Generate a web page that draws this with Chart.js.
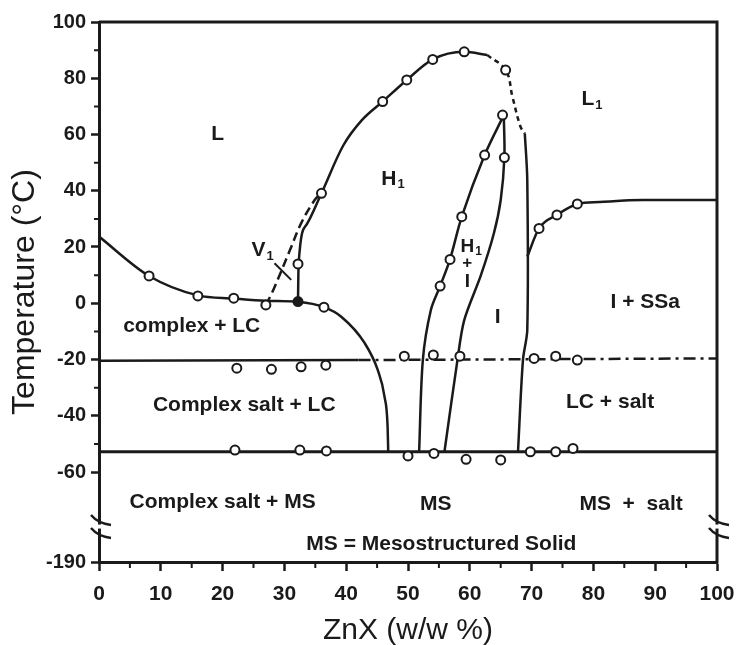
<!DOCTYPE html>
<html lang="en">
<head>
<meta charset="UTF-8" />
<title>ZnX phase diagram</title>
<script src="https://cdn.jsdelivr.net/npm/chart.js"></script>
<style>
  html, body { margin: 0; padding: 0; background: #fff; }
  canvas { display: block; }
</style>
</head>
<body>
<canvas id="phaseChart" width="741" height="645"></canvas>
<script>
// axis ticks (the bottom of the broken y axis stands for -190 °C)
const xTicks = [0, 10, 20, 30, 40, 50, 60, 70, 80, 90, 100];
const xMinor = [5, 15, 25, 35, 45, 55, 65, 75, 85, 95];
const yTicks = [-92, -60, -40, -20, 0, 20, 40, 60, 80, 100];
const yTickLabels = ['-190', '-60', '-40', '-20', '0', '20', '40', '60', '80', '100'];
const yMinor = [-50, -30, -10, 10, 30, 50, 70, 90];
const yBreak = -79.4;

// phase boundaries (ZnX w/w %, temperature)
const liquidusX = [0, 8.1, 16, 21.8, 27, 32.2, 36.4, 39.2, 43, 45.1, 46.2, 46.7, 46.8];
const liquidusT = [23.7, 9.7, 2.8, 1.7, 0.9, 0.5, -1.4, -4.8, -14.2, -23.7, -33.2, -43.9, -52.8];
const lowerSolidX = [0, 42];
const lowerSolidT = [-20.4, -20.2];
const lowerDashX = [42, 100];
const lowerDashT = [-20.2, -19.6];
const eutecticX = [0, 100];
const eutecticT = [-52.8, -52.8];
const domeX = [32.2, 32.3, 33.6, 36, 39.5, 42.5, 45.9, 49.8, 54, 59.1, 62.8];
const domeT = [0.6, 14, 28, 39.1, 56, 65, 71.7, 79.4, 86.7, 89.4, 88.3];
const domeDashX = [62.8, 65.8, 66.9, 68.2, 68.9];
const domeDashT = [88.3, 82.9, 73.4, 62.8, 60.4];
const iEdgeX = [68.9, 69.3, 69.3, 68.6, 67.8];
const iEdgeT = [60.4, 43.8, -9.5, -20.2, -52.8];
const h1LeftX = [65.5, 62.4, 58.7, 56.8, 55.2, 53.7, 52.4, 51.8];
const h1LeftT = [66.9, 52.7, 30.8, 15.6, 6.1, -2.4, -20.2, -52.8];
const h1RightX = [65.5, 65.6, 65.0, 63.9, 61.8, 59.1, 58.0, 55.9];
const h1RightT = [66.9, 52.1, 36.7, 24.9, 10, -6, -20.2, -52.8];
const ssaX = [69.3, 71.2, 74.1, 77.4, 81, 88, 100];
const ssaT = [16.6, 26.6, 31.4, 35.3, 36.0, 36.7, 36.7];
const v1X = [27, 28.2, 30.9, 32.7, 34.9, 36];
const v1T = [-0.6, 4.7, 18.9, 28.4, 36.7, 39.1];
const v1LeaderX = [28.4, 31.1];
const v1LeaderT = [14.2, 8.3];

// measured points
const circleX = [8.1, 16, 21.8, 27, 36.4,
  32.2, 36, 45.9, 49.8, 54, 59.1, 65.8,
  65.3, 62.4, 65.6, 58.7, 56.8, 55.2,
  71.2, 74.1, 77.4,
  22.3, 27.9, 32.7, 36.7, 49.4, 54.1, 58.4, 70.4, 73.9, 77.4,
  22, 32.5, 36.8, 50, 54.2, 59.4, 65, 69.8, 73.9, 76.7];
const circleT = [9.7, 2.6, 1.8, -0.6, -1.4,
  14.0, 39.1, 71.7, 79.4, 86.7, 89.4, 82.9,
  66.9, 52.7, 51.8, 30.8, 15.6, 6.1,
  26.6, 31.4, 35.3,
  -23.1, -23.5, -22.6, -22.0, -18.8, -18.4, -18.8, -19.6, -18.8, -20.2,
  -52.2, -52.2, -52.5, -54.3, -53.4, -55.5, -55.7, -52.8, -52.8, -51.6];
const filledX = [32.2];
const filledT = [0.6];

const ink = '#1a1a1a';
const family = '"Liberation Sans", Arial, sans-serif';

const pts = (xs, ys) => xs.map((x, i) => ({ x: x, y: ys[i] }));
const curve = (xs, ys, extra) => Object.assign({
  data: pts(xs, ys),
  borderColor: ink,
  borderWidth: 2.5,
  pointRadius: 0,
  fill: false,
  tension: 0.4,
  order: 2
}, extra || {});

const datasets = [
  { data: pts(filledX, filledT), showLine: false, pointRadius: 4.5, pointBorderWidth: 2,
    pointBorderColor: ink, pointBackgroundColor: ink, order: 0 },
  { data: pts(circleX, circleT), showLine: false, pointRadius: 4.5, pointBorderWidth: 2,
    pointBorderColor: ink, pointBackgroundColor: '#fff', order: 1 },
  curve(liquidusX, liquidusT, { cubicInterpolationMode: 'monotone' }),
  curve(lowerSolidX, lowerSolidT, { tension: 0 }),
  curve(lowerDashX, lowerDashT, { tension: 0, borderDash: [12, 5, 3, 5] }),
  curve(eutecticX, eutecticT, { tension: 0, borderWidth: 3 }),
  curve(domeX, domeT, { cubicInterpolationMode: 'monotone' }),
  curve(domeDashX, domeDashT, { borderDash: [5, 4] }),
  curve(iEdgeX, iEdgeT, { tension: 0.3 }),
  curve(h1LeftX, h1LeftT, { tension: 0.3 }),
  curve(h1RightX, h1RightT, { tension: 0.3 }),
  curve(ssaX, ssaT, { cubicInterpolationMode: 'monotone' }),
  curve(v1X, v1T, { borderDash: [9, 5] }),
  curve(v1LeaderX, v1LeaderT, { tension: 0, borderWidth: 2 })
];

// region names, placed in data coordinates
const regionLabels = [
  { t: 'L', x: 19.2, y: 60.2 },
  { t: 'H', s: '1', x: 46.9, y: 44.2 },
  { t: 'L', s: '1', x: 79.1, y: 72.6 },
  { t: 'V', s: '1', x: 25.8, y: 18.9 },
  { t: 'H', s: '1', x: 59.6, y: 20.1, size: 19 },
  { t: '+', x: 59.6, y: 14.2, size: 17 },
  { t: 'I', x: 59.6, y: 7.7, size: 19 },
  { t: 'I', x: 64.5, y: -5.1 },
  { t: 'I + SSa', x: 88.4, y: 0.3 },
  { t: 'complex + LC', x: 15, y: -8.1 },
  { t: 'Complex salt + LC', x: 23.5, y: -36.2 },
  { t: 'LC + salt', x: 82.7, y: -35.3 },
  { t: 'Complex salt + MS', x: 20, y: -70.8 },
  { t: 'MS', x: 54.5, y: -71.5 },
  { t: 'MS  +  salt', x: 86.1, y: -71.4 },
  { t: 'MS = Mesostructured Solid', x: 55.4, y: -85.6 }
];

const framePlugin = {
  id: 'frame',
  afterDraw(chart) {
    const { ctx, chartArea: a, scales: { x, y } } = chart;
    ctx.save();
    ctx.strokeStyle = ink;
    ctx.lineWidth = 3;
    ctx.beginPath();
    ctx.moveTo(a.left, a.top);
    ctx.lineTo(a.right, a.top);
    ctx.lineTo(a.right, a.bottom + 1.5);
    ctx.stroke();

    // minor ticks
    ctx.lineWidth = 2;
    ctx.beginPath();
    xMinor.forEach(v => {
      const px = x.getPixelForValue(v);
      ctx.moveTo(px, a.bottom);
      ctx.lineTo(px, a.bottom + 6);
    });
    yMinor.forEach(v => {
      const py = y.getPixelForValue(v);
      ctx.moveTo(a.left, py);
      ctx.lineTo(a.left - 5, py);
    });
    ctx.stroke();

    // axis break marks
    const by = y.getPixelForValue(yBreak);
    [a.left, a.right].forEach(bx => {
      ctx.fillStyle = '#fff';
      ctx.fillRect(bx - 3, by - 2, 6, 4);
      ctx.beginPath();
      [-6.5, 6.5].forEach(dy => {
        ctx.moveTo(bx - 8, by + dy - 5);
        ctx.bezierCurveTo(bx - 3, by + dy + 1, bx + 4, by + dy + 4, bx + 12, by + dy + 5);
      });
      ctx.lineWidth = 2.5;
      ctx.stroke();
    });

    // region labels
    ctx.fillStyle = ink;
    ctx.textAlign = 'center';
    ctx.textBaseline = 'middle';
    regionLabels.forEach(l => {
      const size = l.size || 21;
      const px = x.getPixelForValue(l.x);
      const py = y.getPixelForValue(l.y);
      ctx.font = 'bold ' + size + 'px ' + family;
      ctx.fillText(l.t, px, py);
      if (l.s) {
        const w = ctx.measureText(l.t).width;
        ctx.font = 'bold ' + Math.round(size * 0.62) + 'px ' + family;
        ctx.textAlign = 'left';
        ctx.fillText(l.s, px + w / 2 + 1, py + size * 0.28);
        ctx.textAlign = 'center';
      }
    });
    ctx.restore();
  }
};

new Chart(document.getElementById('phaseChart'), {
  type: 'line',
  data: { datasets: datasets },
  options: {
    responsive: false,
    animation: false,
    events: [],
    layout: { padding: { top: 22, right: 24, left: 0, bottom: 0 } },
    plugins: { legend: { display: false }, tooltip: { enabled: false } },
    scales: {
      x: {
        type: 'linear',
        min: 0,
        max: 100,
        afterBuildTicks: s => { s.ticks = xTicks.map(v => ({ value: v })); },
        afterFit: s => { s.height = 83; s.paddingLeft = 0; s.paddingRight = 20; },
        ticks: { color: ink, font: { family: family, size: 21, weight: 'bold' }, padding: 11, maxRotation: 0, autoSkip: false },
        grid: { drawOnChartArea: false, tickLength: 9, tickWidth: 2.5, tickColor: ink },
        border: { width: 3, color: ink },
        title: { display: true, text: 'ZnX (w/w %)', color: ink, font: { family: family, size: 30 }, padding: -4 }
      },
      y: {
        type: 'linear',
        min: yTicks[0],
        max: 100,
        afterBuildTicks: s => { s.ticks = yTicks.map(v => ({ value: v })); },
        afterFit: s => { s.width = 99; },
        ticks: {
          color: ink,
          font: { family: family, size: 20, weight: 'bold' },
          padding: 5,
          autoSkip: false,
          callback: (v, i) => yTickLabels[i]
        },
        grid: { drawOnChartArea: false, tickLength: 8, tickWidth: 2.5, tickColor: ink },
        border: { width: 3, color: ink },
        title: { display: true, text: 'Temperature (°C)', color: ink, font: { family: family, size: 32 }, padding: 6 }
      }
    }
  },
  plugins: [framePlugin]
});
</script>
</body>
</html>
